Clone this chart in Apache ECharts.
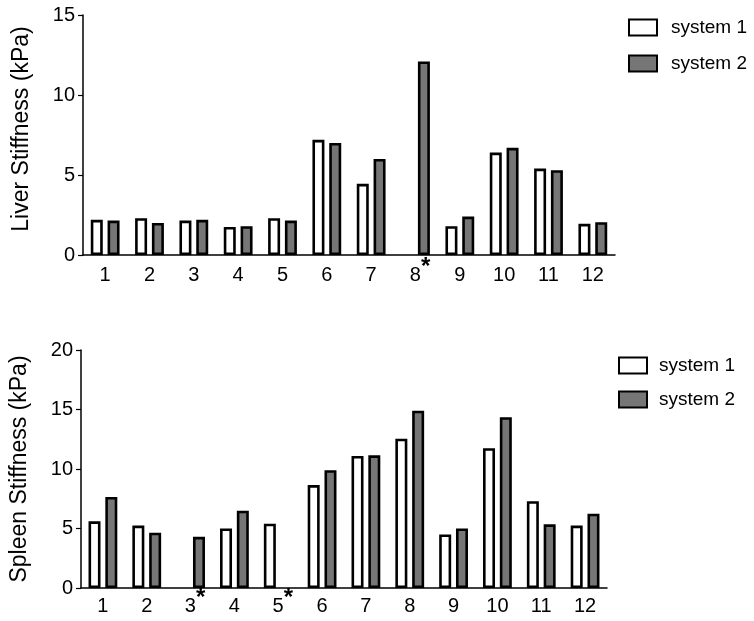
<!DOCTYPE html>
<html>
<head>
<meta charset="utf-8">
<script src="https://cdn.jsdelivr.net/npm/echarts@6/dist/echarts.min.js"></script>
<style>html,body{margin:0;padding:0;background:#fff}#c{width:754px;height:621px}</style>
</head>
<body>
<div id="c"></div>
<script>
const categories = ['1','2','3','4','5','6','7','8','9','10','11','12'];
const liverSys1 = [2.2, 2.3, 2.15, 1.75, 2.3, 7.2, 4.45, null, 1.8, 6.4, 5.4, 1.95];
const liverSys2 = [2.15, 2.0, 2.2, 1.8, 2.15, 7.0, 6.0, 12.1, 2.4, 6.7, 5.3, 2.05];
const spleenSys1 = [5.6, 5.25, null, 5.0, 5.4, 8.65, 11.1, 12.55, 4.5, 11.75, 7.3, 5.25];
const spleenSys2 = [7.65, 4.65, 4.3, 6.5, null, 9.9, 11.15, 14.9, 5.0, 14.35, 5.35, 6.25];
const liverStarred = ['8'];
const spleenStarred = ['3', '5'];
const liverTicks = [0, 15, 5];
const spleenTicks = [0, 20, 5];

const FONT = 'Arial, "Liberation Sans", Helvetica, sans-serif';
const GRAY = '#767676';

function catLabel(starred, margin) {
  return {
    interval: 0, margin, color: '#000', fontSize: 20, fontFamily: FONT,
    formatter: v => starred.includes(v) ? '{p|}{n|' + v + '}{s|*}' : '{n|' + v + '}',
    rich: {
      n: {fontSize: 20, lineHeight: 30, verticalAlign: 'bottom', color: '#000', fontFamily: FONT},
      p: {width: 9, fontSize: 20, lineHeight: 30, verticalAlign: 'bottom'},
      s: {fontSize: 24, fontWeight: 'bold', color: '#000', fontFamily: FONT,
          lineHeight: 21, verticalAlign: 'top'}
    }
  };
}
function xAxis(gridIndex, starred, margin) {
  return {
    type: 'category', gridIndex, data: categories,
    axisLine: {lineStyle: {color: '#000', width: 1.5}},
    axisTick: {alignWithLabel: true, interval: 0, length: 5, lineStyle: {color: '#000', width: 1.2}},
    axisLabel: catLabel(starred, margin)
  };
}
function yAxis(gridIndex, ticks, name, namePad) {
  return {
    type: 'value', gridIndex, min: ticks[0], max: ticks[1], interval: ticks[2],
    name, nameLocation: 'middle', nameGap: 50,
    nameTextStyle: {fontSize: 23, color: '#000', fontFamily: FONT, padding: [0, 0, 0, namePad]},
    axisLine: {show: true, lineStyle: {color: '#000', width: 1.5}},
    axisTick: {show: true, length: 5, lineStyle: {color: '#000', width: 1.2}},
    axisLabel: {margin: 8, color: '#000', fontSize: 20, fontFamily: FONT},
    splitLine: {show: false}
  };
}
function bar(name, data, idx, fill) {
  return {
    type: 'bar', name, data, xAxisIndex: idx, yAxisIndex: idx,
    barWidth: 12, barGap: '40%',
    itemStyle: {color: fill, borderColor: '#000', borderWidth: 2.6},
    emphasis: {disabled: true}
  };
}
function legend(left, top, gap, textGap) {
  return {
    orient: 'vertical', left, top, itemWidth: 28, itemHeight: 16, itemGap: gap,
    icon: 'rect',
    textStyle: {fontSize: 19, color: '#000', fontFamily: FONT, padding: [0, 0, 0, textGap]},
    data: ['system 1', 'system 2']
  };
}

const chart = echarts.init(document.getElementById('c'), null, {renderer: 'canvas'});
chart.setOption({
  animation: false,
  backgroundColor: '#fff',
  grid: [
    {left: 83, top: 15, width: 532, height: 240, containLabel: false, outerBoundsMode: 'none'},
    {left: 81, top: 350, width: 526, height: 238, containLabel: false, outerBoundsMode: 'none'}
  ],
  legend: [legend(623, 13, 17, 9), legend(613, 351, 15, 7)],
  xAxis: [xAxis(0, liverStarred, 0), xAxis(1, spleenStarred, -2)],
  yAxis: [yAxis(0, liverTicks, 'Liver Stiffness (kPa)', 12), yAxis(1, spleenTicks, 'Spleen Stiffness (kPa)', 0)],
  series: [
    bar('system 1', liverSys1, 0, '#fff'),
    bar('system 2', liverSys2, 0, GRAY),
    bar('system 1', spleenSys1, 1, '#fff'),
    bar('system 2', spleenSys2, 1, GRAY)
  ]
});
</script>
</body>
</html>
